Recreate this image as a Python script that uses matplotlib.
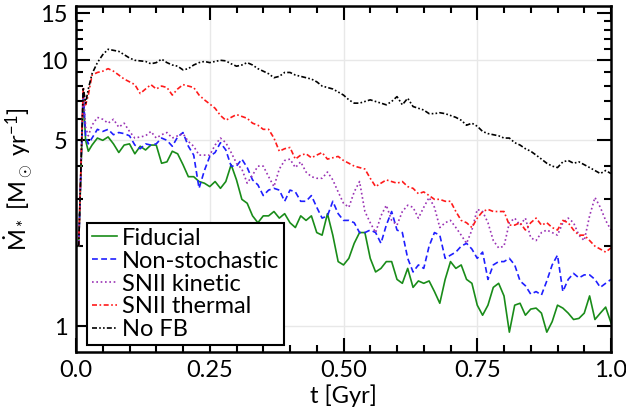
import numpy as np
import matplotlib
matplotlib.use('Agg')
import matplotlib.pyplot as plt
from matplotlib.ticker import FixedLocator, NullFormatter

# 字体设置
plt.rcParams['font.family'] = ['Lato', 'DejaVu Sans']
plt.rcParams['mathtext.fontset'] = 'custom'
plt.rcParams['mathtext.rm'] = 'Lato'
plt.rcParams['mathtext.it'] = 'Lato'
plt.rcParams['mathtext.bf'] = 'Lato:bold'

# 时间采样点 (Gyr)
t = np.concatenate([[0.005, 0.0135, 0.018, 0.023], np.linspace(0.03, 1.0, 98)])

# 恒星形成率 (Msun/yr)
sfr_fiducial = [2.0, 7.3, 5.0, 4.55,
    4.8, 5.1, 5.0, 5.15, 4.85, 4.5, 4.8, 4.85, 4.45, 4.75,
    4.6, 4.8, 4.8, 4.1, 4.15, 4.55, 4.45, 4.05, 3.65, 3.65,
    3.5, 3.45, 3.35, 3.5, 3.3, 3.5, 4.05, 3.55, 3.0, 2.9,
    2.6, 2.45, 2.6, 2.6, 2.7, 2.55, 2.65, 2.45, 2.35, 2.6,
    2.5, 2.6, 2.25, 2.2, 2.65, 2.2, 1.75, 1.7, 1.8, 2.05,
    2.25, 2.25, 1.8, 1.6, 1.65, 1.75, 1.75, 1.5, 1.45, 1.65,
    1.4, 1.48, 1.45, 1.48, 1.35, 1.22, 1.5, 1.75, 1.65, 1.7,
    1.5, 1.45, 1.2, 1.1, 1.2, 1.4, 1.45, 1.3, 0.95, 1.2,
    1.22, 1.1, 1.16, 1.17, 1.12, 0.95, 1.04, 1.2, 1.17, 1.12,
    1.06, 1.07, 1.12, 1.3, 1.06, 1.12, 1.18, 1.03]

sfr_nonstoch = [2.0, 7.6, 5.2, 4.85,
    5.1, 5.5, 5.4, 5.5, 5.25, 5.35, 5.3, 5.2, 4.8, 4.65,
    4.85, 4.8, 4.85, 5.1, 5.0, 4.75, 5.15, 5.35, 4.75, 4.4,
    3.3, 3.85, 4.35, 4.5, 4.9, 4.6, 4.0, 4.0, 4.25, 3.95,
    3.55, 3.4, 3.1, 3.25, 3.3, 3.25, 2.95, 3.25, 3.2, 2.95,
    2.95, 3.1, 2.8, 2.55, 2.6, 2.95, 2.65, 2.5, 2.5, 2.45,
    2.25, 2.25, 2.3, 2.25, 2.05, 2.4, 2.7, 2.3, 2.25, 1.8,
    1.6, 1.7, 1.65, 2.0, 2.25, 2.2, 1.8, 1.85, 1.9, 2.0,
    2.05, 1.95, 1.8, 1.9, 1.5, 1.7, 1.75, 1.75, 1.8, 1.7,
    1.48, 1.42, 1.32, 1.35, 1.31, 1.48, 1.7, 1.85, 1.35, 1.5,
    1.58, 1.52, 1.56, 1.56, 1.5, 1.4, 1.45, 1.5]

sfr_kinetic = [2.0, 7.8, 5.6, 5.2,
    5.7, 6.1, 6.0, 5.8, 6.0, 5.6, 5.8, 5.4, 5.1, 5.15,
    5.2, 5.4, 5.1, 5.25, 5.35, 5.1, 5.2, 5.3, 4.95, 4.75,
    4.4, 4.4, 4.4, 4.8, 5.1, 4.9, 4.5, 4.1, 3.9, 3.45,
    3.7, 4.0, 4.0, 3.65, 3.35, 3.9, 4.2, 4.25, 3.95, 4.15,
    3.8, 3.65, 3.6, 3.6, 3.8, 3.55, 3.2, 2.9, 2.8, 3.2,
    3.5, 2.7, 2.45, 2.25, 2.6, 2.85, 2.5, 2.4, 2.7, 2.85,
    2.8, 2.55, 2.8, 3.05, 2.8, 2.35, 2.45, 2.5, 2.35, 2.2,
    2.05, 2.3, 2.75, 2.7, 2.45, 2.1, 1.97, 2.0, 2.45, 2.55,
    2.4, 2.55, 2.15, 2.1, 2.25, 2.3, 2.25, 2.2, 2.45, 2.55,
    2.45, 2.2, 2.1, 2.6, 3.05, 2.8, 2.5, 2.3]

sfr_thermal = [2.0, 7.9, 6.8, 7.4,
    8.8, 9.0, 9.1, 9.3, 9.1, 8.8, 8.5, 8.3, 8.1, 7.5,
    7.8, 8.1, 7.8, 8.0, 7.9, 7.4, 7.8, 8.1, 8.0, 7.9,
    7.4, 7.1, 6.85, 6.6, 6.2, 5.95, 6.1, 6.25, 6.15, 6.05,
    5.8, 5.7, 5.5, 5.5, 5.1, 4.55, 4.65, 4.7, 4.25, 4.4,
    4.45, 4.3, 4.4, 4.5, 4.25, 4.3, 4.35, 4.2, 4.1, 4.0,
    3.95, 3.9, 3.6, 3.35, 3.45, 3.55, 3.5, 3.45, 3.5, 3.35,
    3.3, 3.15, 3.2, 3.1, 3.0, 3.0, 2.95, 2.95, 2.7, 2.5,
    2.45, 2.35, 2.55, 2.7, 2.75, 2.7, 2.7, 2.7, 2.4, 2.4,
    2.45, 2.3, 2.45, 2.55, 2.4, 2.45, 2.35, 2.3, 2.5, 2.45,
    2.3, 2.2, 2.2, 2.1, 2.0, 1.95, 1.9, 1.97]

sfr_nofb = [2.0, 7.9, 6.9, 7.8,
    8.9, 9.8, 10.5, 11.0, 10.9, 10.8, 10.5, 10.2, 10.0, 9.95,
    9.9, 9.7, 9.8, 10.1, 9.8, 9.6, 9.5, 9.2, 9.3, 9.6,
    9.8, 9.9, 9.8, 9.9, 10.0, 9.95, 9.7, 9.5, 9.6, 9.8,
    9.6, 9.3, 9.1, 8.9, 8.6, 8.7, 9.0, 9.0, 8.8, 8.7,
    8.6, 8.5, 8.3, 8.0, 7.9, 7.8, 7.6, 7.4, 7.1, 6.9,
    6.9, 7.0, 7.1, 7.0, 6.9, 6.8, 7.0, 7.3, 6.8, 7.2,
    6.7, 6.6, 6.5, 6.3, 6.3, 6.35, 6.3, 6.2, 6.1, 5.95,
    5.7, 5.8, 5.65, 5.4, 5.3, 5.25, 5.2, 5.1, 5.1, 4.9,
    4.8, 4.65, 4.55, 4.4, 4.25, 4.1, 4.0, 3.95, 4.15, 4.2,
    4.1, 4.15, 4.05, 3.95, 3.85, 3.75, 3.85, 3.75]

labels = ['Fiducial', 'Non-stochastic', 'SNII kinetic', 'SNII thermal', 'No FB']
colors = ['#198c19', '#1f1fff', '#9a32b4', '#ff1a1a', 'black']
styles = ['-', (0, (3.5, 2)), (0, (1, 1.6)), (0, (3, 1.5, 1, 1.5)),
          (0, (3, 1.3, 1, 1.3, 1, 1.3))]

fig = plt.figure(figsize=(6.26, 4.07), dpi=100)
ax = fig.add_axes([76/626, 55/407, 535/626, 346/407])

for y, lab, c, ls in zip([sfr_fiducial, sfr_nonstoch, sfr_kinetic, sfr_thermal, sfr_nofb],
                         labels, colors, styles):
    ax.plot(t, y, color=c, linestyle=ls, lw=1.2, label=lab)

ax.set_yscale('log')
ax.set_xlim(0, 1.0)
ax.set_ylim(0.8, 16)

# 坐标刻度
ax.xaxis.set_major_locator(FixedLocator([0, 0.25, 0.5, 0.75, 1.0]))
ax.xaxis.set_minor_locator(FixedLocator(np.arange(0, 1.001, 0.05)))
ax.set_xticklabels(['0.0', '0.25', '0.50', '0.75', '1.0'])
ax.yaxis.set_major_locator(FixedLocator([1, 5, 10, 15]))
ax.yaxis.set_minor_locator(FixedLocator([2, 3, 4, 6, 7, 8, 9, 11, 12, 13, 14]))
ax.yaxis.set_minor_formatter(NullFormatter())
ax.set_yticklabels(['1', '5', '10', '15'])
ax.tick_params(which='both', direction='in', top=True, right=True, labelsize=17, width=1.5)
ax.tick_params(which='major', length=10, pad=6)
ax.tick_params(which='minor', length=5)
for s in ax.spines.values():
    s.set_linewidth(1.8)

# 网格线
for gx in [0.25, 0.5, 0.75]:
    ax.axvline(gx, color='#e8e8e8', lw=1, zorder=0)
for gy in [1, 5, 10]:
    ax.axhline(gy, color='#e8e8e8', lw=1, zorder=0)

ax.set_xlabel('t [Gyr]', fontsize=17, labelpad=2)
ax.set_ylabel(r'$\dot{M}_*$ [M$_\odot$ yr$^{-1}$]', fontsize=17, labelpad=4)

leg = ax.legend(loc='lower left', bbox_to_anchor=(0.0206, 0.0202), borderaxespad=0,
                fontsize=17, fancybox=False, framealpha=1, edgecolor='black',
                handlelength=1.05, handletextpad=0.22, labelspacing=0.08, borderpad=0.2)
leg.get_frame().set_linewidth(1.5)

fig.savefig('out.png', dpi=100)
